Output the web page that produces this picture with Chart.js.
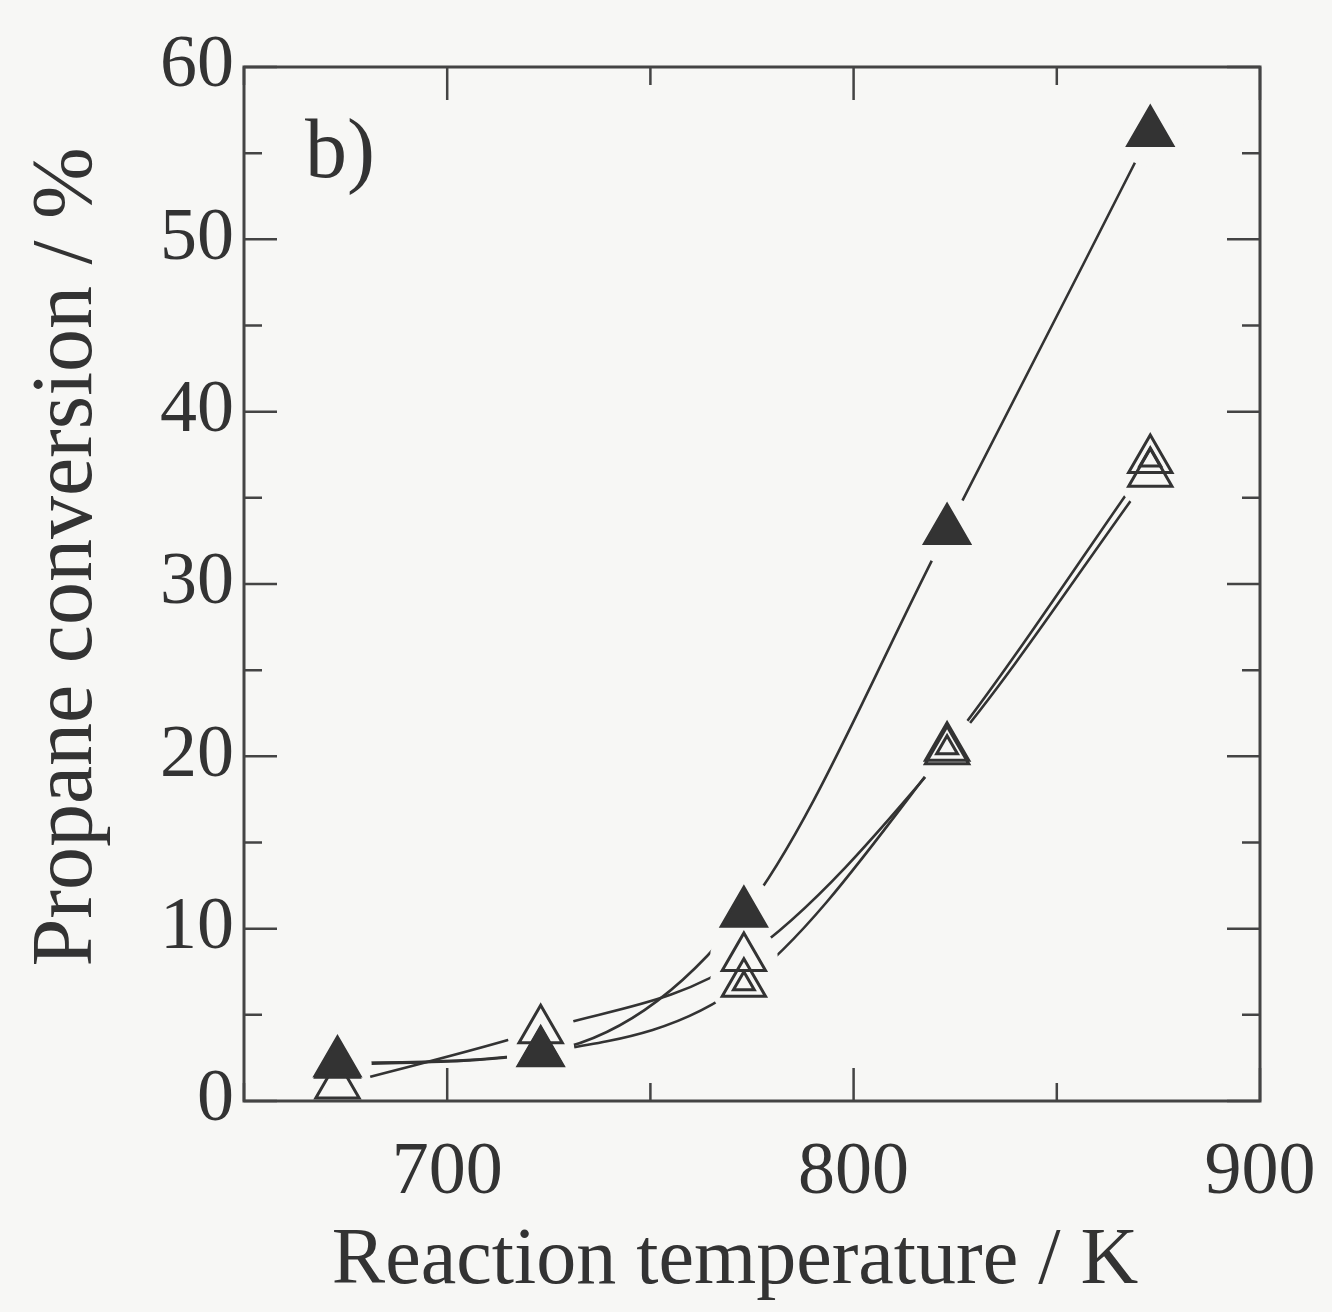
<!DOCTYPE html>
<html>
<head>
<meta charset="utf-8">
<script src="https://cdn.jsdelivr.net/npm/chart.js@4.4.0/dist/chart.umd.min.js"></script>
<style>
  html, body { margin: 0; background: #f7f7f5; }
</style>
</head>
<body>
<canvas id="chart" width="1332" height="1312"></canvas>
<script>
// reaction temperature (K)
const temps = [673, 723, 773, 823, 873];
// propane conversion (%) per catalyst series
const filledVals = [2.2, 2.8, 10.9, 33.1, 56.2];
const openVals = [0.9, 4.1, 8.3, 20.3, 36.4];
const doubleVals = [2.1, 2.8, 6.8, 20.5, 37.2];
const xTicks = [700, 800, 900];
const yTicks = [0, 10, 20, 30, 40, 50, 60];

const bg = "#f7f7f5";
const ink = "#333333";
const serif = "Liberation Serif";

const pts = vals => temps.map((t, i) => ({ x: t, y: vals[i] }));

function lineSet(vals) {
  return {
    data: pts(vals),
    showLine: true,
    borderColor: ink,
    borderWidth: 2.6,
    pointRadius: 0,
    cubicInterpolationMode: "monotone",
    order: 10,
  };
}

function haloSet(vals) {
  return {
    data: pts(vals),
    showLine: false,
    pointStyle: "circle",
    pointRadius: 34,
    pointBackgroundColor: bg,
    pointBorderColor: bg,
    pointBorderWidth: 0,
    order: 5,
  };
}

function markerSet(vals, r, fill, ord) {
  return {
    data: pts(vals),
    showLine: false,
    pointStyle: "triangle",
    pointRadius: r,
    pointBackgroundColor: fill,
    pointBorderColor: ink,
    pointBorderWidth: 3,
    order: ord,
  };
}

// box, inward ticks, titles and panel label
const frame = {
  id: "frame",
  beforeDraw(chart) {
    const c = chart.ctx;
    c.save();
    c.fillStyle = bg;
    c.fillRect(0, 0, chart.width, chart.height);
    c.restore();
  },
  afterDatasetsDraw(chart) {
    const c = chart.ctx;
    const a = chart.chartArea;
    const xs = chart.scales.x, ys = chart.scales.y;
    c.save();
    c.strokeStyle = "#444";
    c.lineWidth = 3;
    c.strokeRect(a.left, a.top, a.right - a.left, a.bottom - a.top);
    c.lineWidth = 2.5;
    c.beginPath();
    for (let v = 650; v <= 900; v += 50) {
      const p = xs.getPixelForValue(v);
      const len = v % 100 === 0 ? 33 : 18;
      c.moveTo(p, a.bottom); c.lineTo(p, a.bottom - len);
      c.moveTo(p, a.top); c.lineTo(p, a.top + len);
    }
    for (let v = 0; v <= 60; v += 5) {
      const p = ys.getPixelForValue(v);
      const len = v % 10 === 0 ? 33 : 18;
      c.moveTo(a.left, p); c.lineTo(a.left + len, p);
      c.moveTo(a.right, p); c.lineTo(a.right - len, p);
    }
    c.stroke();
    c.restore();
  },
  afterDraw(chart) {
    const c = chart.ctx;
    const xs = chart.scales.x, ys = chart.scales.y;
    c.save();
    c.fillStyle = ink;
    c.textAlign = "center";
    c.textBaseline = "middle";
    c.font = "80px '" + serif + "'";
    c.fillText("Reaction temperature / K", 735, 1262);
    c.translate(68, 557);
    c.rotate(-Math.PI / 2);
    c.font = "86px '" + serif + "'";
    c.fillText("Propane conversion / %", 0, 0);
    c.restore();
    c.save();
    c.fillStyle = ink;
    c.font = "84px '" + serif + "'";
    c.textAlign = "left";
    c.textBaseline = "alphabetic";
    c.fillText("b)", xs.getPixelForValue(665), ys.getPixelForValue(53.6));
    c.restore();
  },
};

new Chart(document.getElementById("chart"), {
  type: "scatter",
  data: {
    datasets: [
      markerSet(filledVals, 26, ink, 0),
      markerSet(openVals, 25, "rgba(0,0,0,0)", 1),
      markerSet(doubleVals, 25, "rgba(0,0,0,0)", 1),
      markerSet(doubleVals, 12, "rgba(0,0,0,0)", 1),
      haloSet(filledVals),
      haloSet(openVals),
      haloSet(doubleVals),
      lineSet(filledVals),
      lineSet(openVals),
      lineSet(doubleVals),
    ],
  },
  options: {
    responsive: false,
    devicePixelRatio: 1,
    animation: false,
    layout: { padding: { left: 0, right: 72, top: 67, bottom: 0 } },
    plugins: { legend: { display: false }, tooltip: { enabled: false } },
    elements: { point: { hoverRadius: 0 } },
    datasets: { scatter: { clip: false } },
    scales: {
      x: {
        type: "linear",
        min: 650,
        max: 900,
        afterBuildTicks: s => { s.ticks = xTicks.map(v => ({ value: v })); },
        afterFit: s => { s.height = 211; s.paddingLeft = 0; s.paddingRight = 0; },
        grid: { display: false, drawTicks: false },
        border: { display: false },
        ticks: { color: ink, font: { family: serif, size: 74 }, padding: 28, maxRotation: 0 },
      },
      y: {
        min: 0,
        max: 60,
        afterBuildTicks: s => { s.ticks = yTicks.map(v => ({ value: v })); },
        afterFit: s => { s.width = 244; s.paddingTop = 0; s.paddingBottom = 0; },
        grid: { display: false, drawTicks: false },
        border: { display: false },
        ticks: { color: ink, font: { family: serif, size: 74 }, padding: 10 },
      },
    },
  },
  plugins: [frame],
});
</script>
</body>
</html>
